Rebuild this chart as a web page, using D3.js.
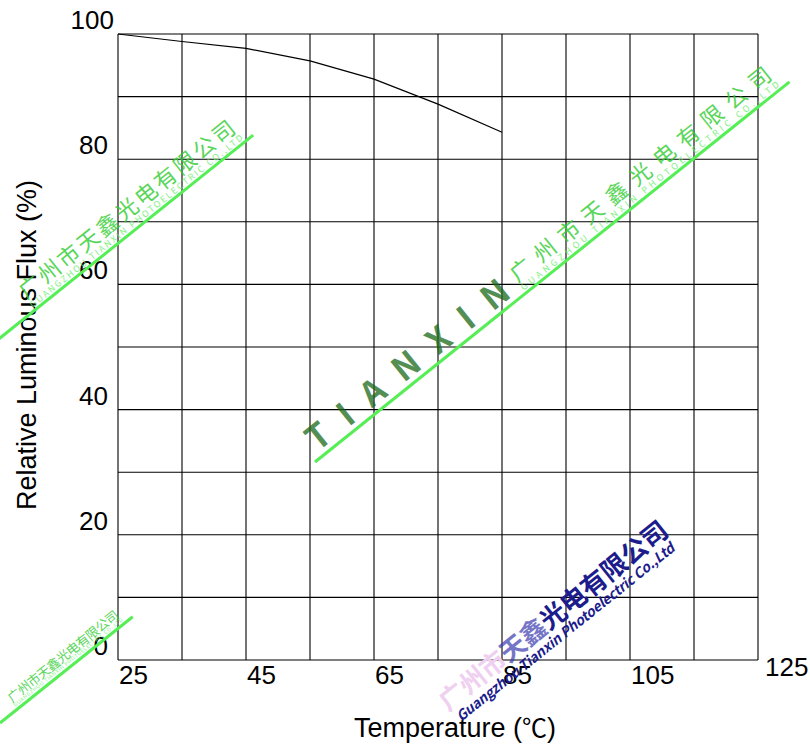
<!DOCTYPE html>
<html lang="en">
<head>
  <meta charset="UTF-8">
  <title>Relative Luminous Flux vs Temperature</title>
  <script src="https://d3js.org/d3.v7.min.js"></script>
  <style>
    body {
      margin: 0;
      background-color: #ffffff;
    }
    svg text {
      font-family: Arial, "Liberation Sans", sans-serif;
    }
    .wm text {
      font-family: "Noto Sans CJK SC", sans-serif;
    }
  </style>
</head>
<body>
  <div id="chart"></div>

  <script>
    // Curve
    const temps = [25, 35, 45, 55, 65, 75, 85];
    const flux = [100, 98.8, 97.7, 95.7, 92.8, 88.8, 84.3];

    // Tick values
    const xTicks = [25, 45, 65, 85, 105, 125];
    const yTicks = [0, 20, 40, 60, 80, 100];
    const xGrid = d3.range(25, 126, 10);
    const yGrid = d3.range(0, 101, 10);

    const width = 810;
    const height = 749;

    const x = d3.scaleLinear().domain([25, 125]).range([118, 758]);
    const y = d3.scaleLinear().domain([0, 100]).range([660, 34]);

    const svg = d3.select('#chart')
      .append('svg')
      .attr('width', width)
      .attr('height', height);

    // Grid
    const grid = svg.append('g')
      .attr('stroke', '#000')
      .attr('stroke-width', 1.1);

    grid.selectAll('.vline')
      .data(xGrid)
      .enter()
      .append('line')
      .attr('x1', d => x(d))
      .attr('x2', d => x(d))
      .attr('y1', y(0))
      .attr('y2', y(100));

    grid.selectAll('.hline')
      .data(yGrid)
      .enter()
      .append('line')
      .attr('x1', x(25))
      .attr('x2', x(125))
      .attr('y1', d => y(d))
      .attr('y2', d => y(d));

    // Tick labels
    svg.selectAll('.xlabel')
      .data(xTicks)
      .enter()
      .append('text')
      .attr('x', d => d === 125 ? x(d) + 7 : x(d) + 1)
      .attr('y', d => d === 125 ? y(0) + 16 : y(0) + 24)
      .attr('font-size', 26)
      .text(d => d);

    svg.selectAll('.ylabel')
      .data(yTicks)
      .enter()
      .append('text')
      .attr('x', d => d === 100 ? 114 : 108)
      .attr('y', d => y(d) - 5)
      .attr('text-anchor', 'end')
      .attr('font-size', 26)
      .text(d => d);

    // Axis titles
    const xt = svg.append('text')
      .attr('x', 455)
      .attr('y', 737)
      .attr('text-anchor', 'middle')
      .attr('font-size', 27);
    xt.append('tspan').text('Temperature (');
    xt.append('tspan')
      .attr('font-family', '"Noto Sans CJK SC", sans-serif')
      .attr('font-size', 25)
      .text('℃');
    xt.append('tspan').text(')');

    svg.append('text')
      .attr('transform', 'translate(36, 345) rotate(-90)')
      .attr('text-anchor', 'middle')
      .attr('font-size', 27)
      .text('Relative Luminous Flux (%)');

    // Curve
    const line = d3.line()
      .x((d, i) => x(temps[i]))
      .y(d => y(d));

    svg.append('path')
      .datum(flux)
      .attr('fill', 'none')
      .attr('stroke', '#000')
      .attr('stroke-width', 1.2)
      .attr('d', line);

    // Watermarks
    const wm = svg.append('g').attr('class', 'wm');
    const angle = -38.7;

    function greenBand(x0, y0, len, start, size, big) {
      const g = wm.append('g')
        .attr('transform', `translate(${x0}, ${y0}) rotate(${angle})`);
      g.append('line')
        .attr('x1', 0).attr('x2', len)
        .attr('y1', 0).attr('y2', 0)
        .attr('stroke', '#55ee55')
        .attr('stroke-width', 3);
      if (big) {
        g.append('text')
          .attr('x', 8)
          .attr('y', -6)
          .attr('font-size', 34)
          .attr('font-weight', 'bold')
          .attr('fill', '#1a6a1a')
          .attr('opacity', 0.75)
          .attr('font-family', 'Arial, sans-serif')
          .attr('textLength', 250)
          .text('TIANXIN');
      }
      g.append('text')
        .attr('x', start)
        .attr('y', -size * 0.6)
        .attr('font-size', size)
        .attr('fill', '#2fcc2f')
        .attr('opacity', 0.8)
        .attr('textLength', len - start - 10)
        .text('广州市天鑫光电有限公司');
      g.append('text')
        .attr('x', start)
        .attr('y', -3)
        .attr('font-size', size * 0.4)
        .attr('fill', '#66ee66')
        .attr('opacity', 0.8)
        .attr('textLength', len - start - 10)
        .text('GUANGZHOU TIANXIN PHOTOELECTRIC CO.,LTD');
    }

    greenBand(-20, 354, 350, 70, 22, false);
    greenBand(315, 462, 608, 270, 22, true);
    greenBand(0, 723, 170, 22, 13, false);

    // Blue watermark
    const blue = wm.append('g')
      .attr('transform', `translate(448, 712) rotate(${angle})`);
    const bt = blue.append('text')
      .attr('x', 0)
      .attr('y', 0)
      .attr('font-size', 26)
      .attr('font-weight', 'bold')
      .attr('textLength', 285);
    bt.append('tspan').attr('fill', '#f0d0f0').text('广州市');
    bt.append('tspan').attr('fill', '#3c3cb0').attr('opacity', 0.7).text('天鑫');
    bt.append('tspan').attr('fill', '#1c1c8c').text('光电有限公司');
    blue.append('text')
      .attr('x', 4)
      .attr('y', 16)
      .attr('font-size', 14)
      .attr('font-weight', 'bold')
      .attr('font-style', 'italic')
      .attr('fill', '#1c1c8c')
      .attr('font-family', 'Arial, sans-serif')
      .attr('textLength', 275)
      .text('Guangzhou Tianxin Photoelectric Co.,Ltd');
  </script>
</body>
</html>
